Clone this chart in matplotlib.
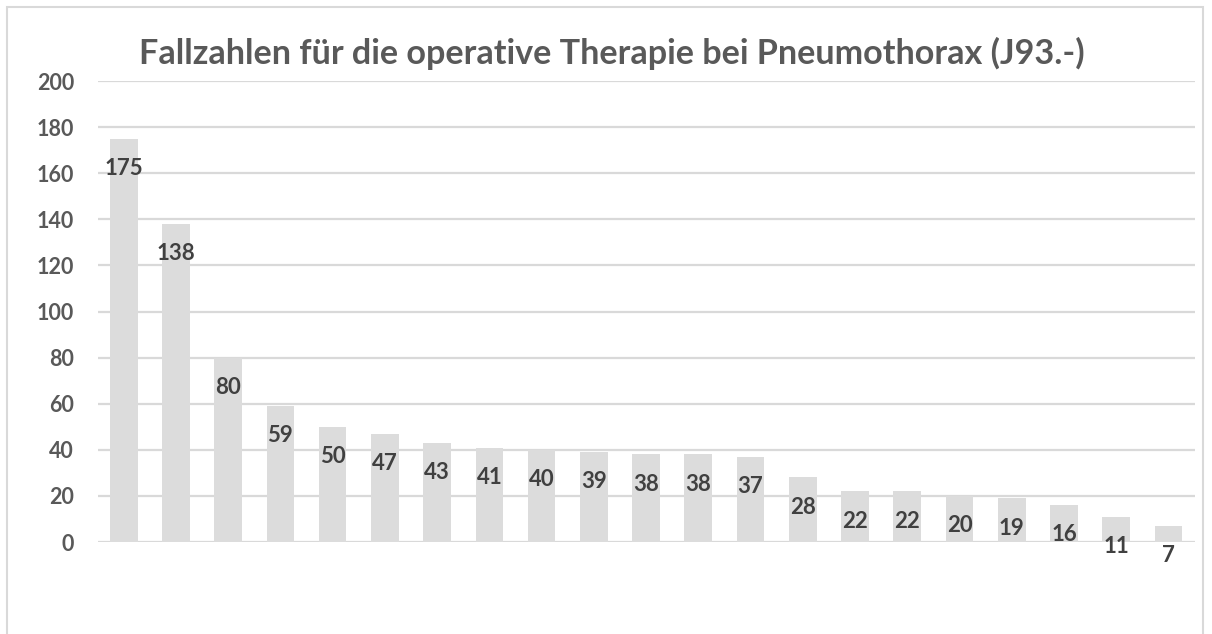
import numpy as np
import matplotlib.pyplot as plt
from matplotlib.patches import Rectangle

plt.rcParams['font.family'] = ['Lato', 'DejaVu Sans']

TITLE = 'Fallzahlen für die operative Therapie bei Pneumothorax (J93.-)'
cases = [175, 138, 80, 59, 50, 47, 43, 41, 40, 39, 38, 38, 37, 28, 22, 22, 20, 19, 16, 11, 7]
y_ticks = [0, 20, 40, 60, 80, 100, 120, 140, 160, 180, 200]

GRID = '#d9d9d9'
BAR = '#dcdcdc'
TICK_COL = '#595959'
LABEL_COL = '#404040'

fig = plt.figure(figsize=(12.12, 6.34), dpi=100)
# chart area frame (bottom edge runs off the image)
fig.patches.append(Rectangle((7 / 1212, -0.02), 1196 / 1212, 0.02 + 627 / 634,
                             transform=fig.transFigure, fill=False,
                             edgecolor=GRID, linewidth=1.5))

ax = fig.add_axes([0.0805, 0.1451, 0.9051, 0.7271])
x = np.arange(len(cases))
ax.bar(x, cases, width=0.53, color=BAR, zorder=2)

ax.set_xlim(-0.5, len(cases) - 0.5)
ax.set_ylim(0, 200)
ax.set_yticks(y_ticks)
ax.set_yticklabels([str(t) for t in y_ticks], fontsize=15.5, fontweight='bold', color=TICK_COL)
ax.tick_params(axis='y', length=0, pad=17)
ax.set_xticks([])
for s in ax.spines.values():
    s.set_visible(False)
ax.yaxis.grid(True, color=GRID, linewidth=1.6, zorder=0)
ax.set_axisbelow(True)

# value labels just inside the top of each bar
for xi, v in zip(x, cases):
    ax.annotate(str(v), (xi, v), xytext=(0, -21.5), textcoords='offset points',
                ha='center', va='center', fontsize=16, fontweight='bold',
                color=LABEL_COL, zorder=3)

fig.text(0.505, 0.916, TITLE, ha='center', va='center', fontsize=24.6,
         fontweight='bold', color=TICK_COL)

fig.savefig('out.png', dpi=100)
